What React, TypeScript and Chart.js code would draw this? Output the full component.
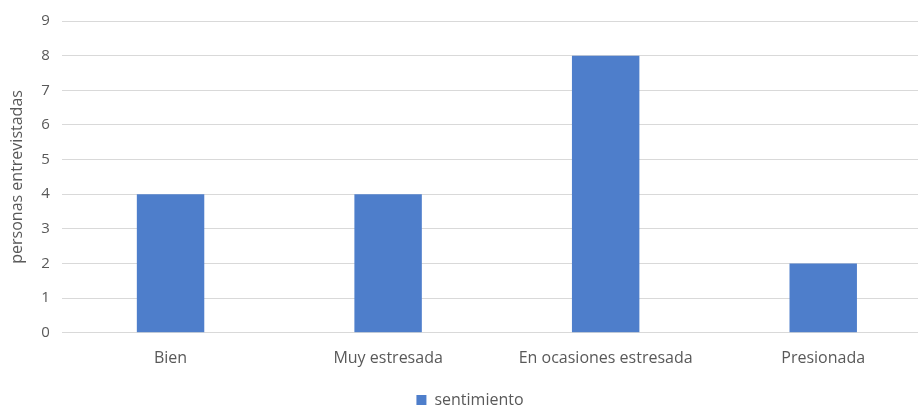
import React, { useEffect, useRef } from "react";
import { Chart, registerables } from "chart.js";

Chart.register(...registerables);

const categories = ["Bien", "Muy estresada", "En ocasiones estresada", "Presionada"];
const seriesName = "sentimiento";
const values = [4, 4, 8, 2];
const yTitle = "personas entrevistadas";

export default function App() {
  const ref = useRef<HTMLCanvasElement>(null);
  useEffect(() => {
    document.body.style.margin = "0";
    const ctx = ref.current!.getContext("2d")!;
    const font = "'Open Sans', sans-serif";
    const chart = new Chart(ctx, {
      type: "bar",
      data: {
        labels: categories,
        datasets: [
          {
            label: seriesName,
            data: values,
            backgroundColor: "#4e7ecb",
            categoryPercentage: 1,
            barPercentage: 0.31,
          },
        ],
      },
      options: {
        responsive: false,
        animation: false,
        layout: { padding: { top: 8, left: 8, right: 0, bottom: -13 } },
        scales: {
          x: {
            grid: { display: false },
            border: { display: false },
            ticks: { color: "#595959", font: { family: font, size: 16 }, padding: 8 },
          },
          y: {
            min: 0,
            max: 9,
            ticks: { stepSize: 1, color: "#595959", font: { family: font, size: 15 }, padding: 12 },
            grid: { color: "#d9d9d9", lineWidth: 1, drawTicks: false },
            border: { display: false },
            title: {
              display: true,
              text: yTitle,
              color: "#595959",
              font: { family: font, size: 16 },
              padding: { top: 0, bottom: 2 },
            },
          },
        },
        plugins: {
          legend: {
            position: "bottom",
            labels: {
              color: "#595959",
              font: { family: font, size: 16 },
              boxWidth: 10,
              boxHeight: 10,
              padding: 16,
            },
          },
          tooltip: { enabled: false },
        },
      },
    });
    return () => chart.destroy();
  }, []);
  return (
    <div style={{ width: 918, height: 405, overflow: "hidden", background: "#fff" }}>
      <canvas ref={ref} width={932} height={405} />
    </div>
  );
}
